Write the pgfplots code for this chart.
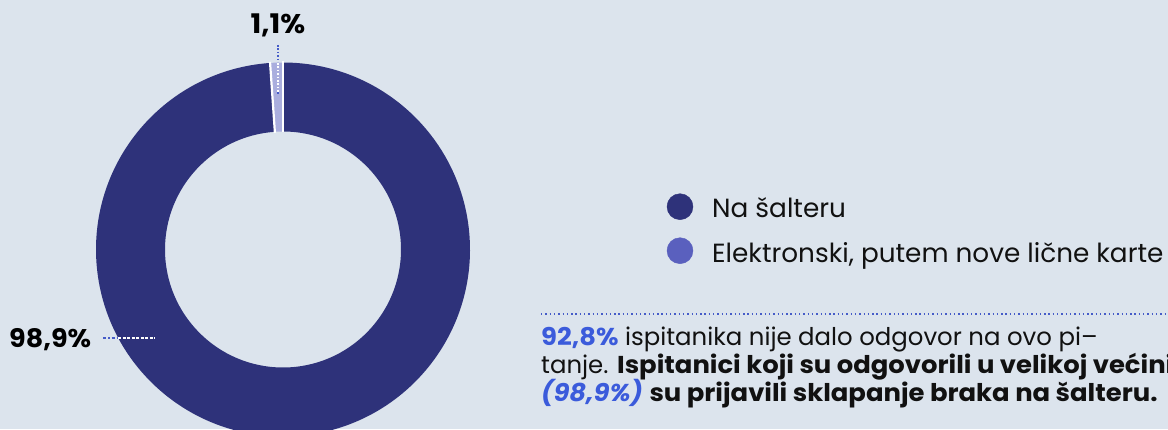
\documentclass[border=0pt]{standalone}
\usepackage{fontspec}
\setmainfont{Poppins}[BoldFeatures={FakeStretch=1.06}, BoldItalicFeatures={FakeStretch=1.06}]
\usepackage{pgfplots}
\usepackage{pgfplotstable}
\pgfplotsset{compat=1.18}
\usetikzlibrary{calc}
\definecolor{bgc}{RGB}{220,228,237}
\definecolor{darkc}{RGB}{46,50,122}
\definecolor{lightc}{RGB}{170,174,222}
\definecolor{legc}{RGB}{90,96,190}
\definecolor{hlc}{RGB}{59,91,219}
\definecolor{leadc}{RGB}{70,92,200}
\definecolor{txtc}{RGB}{17,17,17}

\pgfplotstableread{
label value
Elektronski 1.1
Salter 98.9
}\pietable

\begin{document}
\begin{tikzpicture}
\pgfplotstablegetelem{0}{value}\of\pietable \let\vA\pgfplotsretval
\pgfplotstablegetelem{1}{value}\of\pietable \let\vB\pgfplotsretval
\pgfmathsetmacro\aStart{90}
\pgfmathsetmacro\aMid{90+3.6*\vA}
\pgfmathsetmacro\aEnd{\aMid+3.6*\vB}
\begin{axis}[
  width=1168pt, height=429pt, scale only axis,
  xmin=0, xmax=1168, ymin=0, ymax=429,
  enlargelimits=false, hide axis, clip=false,
]
\fill[bgc] (axis cs:0,0) rectangle (axis cs:1168,429);
\coordinate (BL) at (axis cs:0,0);
\coordinate (TR) at (axis cs:1168,429);
% donut slices
\fill[darkc] ($(axis cs:283,179.5)+(\aMid:187pt)$) arc[start angle=\aMid, end angle=\aEnd, radius=187pt]
  -- ($(axis cs:283,179.5)+(\aEnd:118pt)$) arc[start angle=\aEnd, end angle=\aMid, radius=118pt] -- cycle;
\fill[lightc] ($(axis cs:283,179.5)+(\aStart:187pt)$) arc[start angle=\aStart, end angle=\aMid, radius=187pt]
  -- ($(axis cs:283,179.5)+(\aMid:118pt)$) arc[start angle=\aMid, end angle=\aStart, radius=118pt] -- cycle;
% separators
\draw[white, line width=2.2pt] ($(axis cs:283,179.5)+(\aStart:117pt)$) -- ($(axis cs:283,179.5)+(\aStart:188pt)$);
\draw[white, line width=2.2pt] ($(axis cs:283,179.5)+(\aMid:117pt)$) -- ($(axis cs:283,179.5)+(\aMid:188pt)$);
% leader 1,1%
\draw[leadc, line width=1.6pt, dash pattern=on 1.6pt off 1.8pt] (axis cs:277.7,384) -- (axis cs:277.7,367);
\draw[white, line width=1.6pt, dash pattern=on 1.6pt off 1.8pt] (axis cs:277.7,366) -- (axis cs:277.7,337);
\draw[leadc, line width=1.6pt, dash pattern=on 1.6pt off 1.8pt] (axis cs:277.7,336.5) -- (axis cs:277.7,333.5);
\node[anchor=base, font=\fontsize{27pt}{32pt}\selectfont\bfseries, text=black, inner sep=0pt] at (axis cs:278,395.7) {1,1\%};
% leader 98,9%
\draw[leadc, line width=1.6pt, dash pattern=on 3pt off 2pt on 1.6pt off 2pt] (axis cs:103,91.3) -- (axis cs:117,91.3);
\draw[white, line width=1.6pt, dash pattern=on 3.3pt off 1.2pt] (axis cs:118,91.3) -- (axis cs:155,91.3);
\node[anchor=base west, font=\fontsize{25.5pt}{30pt}\selectfont\bfseries, text=black, inner sep=0pt] at (axis cs:9,82) {98,9\%};
% legend
\addplot[only marks, mark=*, mark size=13pt, color=darkc] coordinates {(680,222.3)};
\addplot[only marks, mark=*, mark size=13pt, color=legc] coordinates {(680,178.3)};
\node[anchor=base west, font=\fontsize{26.3pt}{31pt}\selectfont, text=txtc, inner sep=0pt] at (axis cs:712,211.3) {Na šalteru};
\node[anchor=base west, font=\fontsize{26.3pt}{31pt}\selectfont, text=txtc, inner sep=0pt] at (axis cs:712,166.7) {Elektronski, putem nove lične karte};
% dotted rule
\draw[leadc, line width=1.4pt, dash pattern=on 1.4pt off 2.9pt] (axis cs:541,115) -- (axis cs:1168,115);
% body text
\node[anchor=base west, font=\fontsize{24.4pt}{29pt}\selectfont, text=txtc, inner sep=0pt] at (axis cs:541,84)
  {{\color{hlc}\bfseries 92,8\%} ispitanika nije dalo odgovor na ovo pi–};
\node[anchor=base west, font=\fontsize{24.4pt}{29pt}\selectfont, text=txtc, inner sep=0pt] at (axis cs:541,55.7)
  {tanje. \textbf{Ispitanici koji su odgovorili u velikoj većini}};
\node[anchor=base west, font=\fontsize{24.4pt}{29pt}\selectfont, text=txtc, inner sep=0pt] at (axis cs:541,27.5)
  {{\color{hlc}\bfseries\itshape (98,9\%)} \textbf{su prijavili sklapanje braka na šalteru.}};
\end{axis}
\pgfresetboundingbox
\useasboundingbox (BL) rectangle (TR);
\end{tikzpicture}
\end{document}
